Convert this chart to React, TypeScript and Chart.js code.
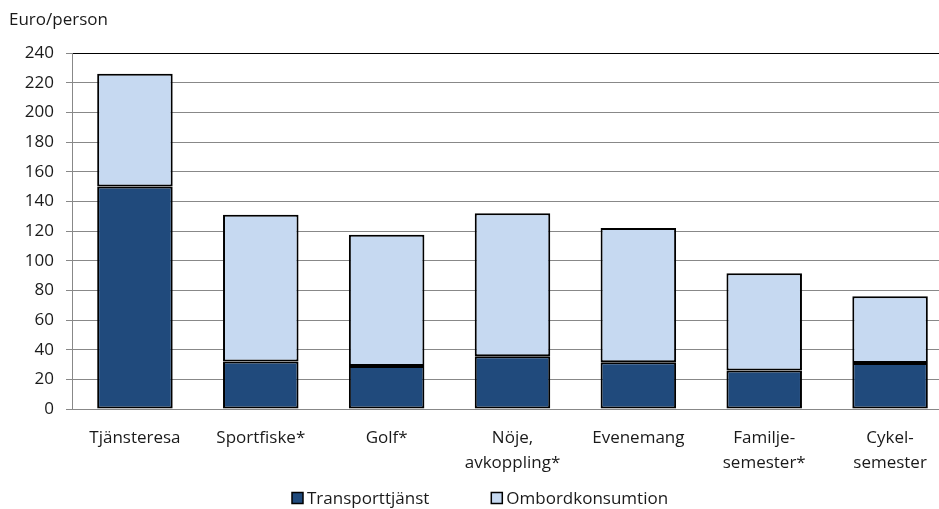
import React, { useEffect, useRef } from "react";
import { Chart, registerables } from "chart.js";

Chart.register(...registerables);

// ---- Data ----
const categories: (string | string[])[] = [
  "Tjänsteresa",
  "Sportfiske*",
  "Golf*",
  ["Nöje,", "avkoppling*"],
  "Evenemang",
  ["Familje-", "semester*"],
  ["Cykel-", "semester"],
];
const transporttjanst = [150, 32, 29, 35.5, 31.5, 26, 31];
const ombordkonsumtion = [76, 99, 88.5, 96.5, 90.5, 65.5, 45];
const seriesNames = ["Transporttjänst", "Ombordkonsumtion"];
const yAxisTitle = "Euro/person";
const yMin = 0;
const yMax = 240;
const yStep = 20;

// ---- Style ----
const FONT = "'Open Sans', sans-serif";
const TEXT = "#1a1a1a";
const GRID = "#888888";
const DARK = "#204a7c";
const LIGHT = "#c6d9f1";

const overlayPlugin = {
  id: "overlay",
  afterDraw(chart: any) {
    const ctx = chart.ctx as CanvasRenderingContext2D;
    ctx.save();
    ctx.font = `17px ${FONT}`;
    ctx.fillStyle = TEXT;
    ctx.textBaseline = "middle";
    ctx.textAlign = "left";
    ctx.fillText(yAxisTitle, 9, 20);

    const items = chart.data.datasets.map((ds: any) => ({
      label: ds.label as string,
      color: ds.backgroundColor as string,
    }));
    const box = 11;
    const gapText = 4;
    const gapItems = 62;
    const widths = items.map((it: any) => ctx.measureText(it.label).width);
    const total =
      widths.reduce((a: number, w: number) => a + box + gapText + w, 0) +
      gapItems * (items.length - 1);
    let x = Math.round(chart.width / 2 - total / 2);
    const y = 498;
    items.forEach((it: any, i: number) => {
      ctx.fillStyle = it.color;
      ctx.fillRect(x, y - box / 2, box, box);
      ctx.lineWidth = 1.5;
      ctx.strokeStyle = "#000";
      ctx.strokeRect(x, y - box / 2, box, box);
      ctx.fillStyle = TEXT;
      ctx.fillText(it.label, x + box + gapText, y + 1);
      x += box + gapText + widths[i] + gapItems;
    });
    ctx.restore();
  },
};

export default function App() {
  const ref = useRef<HTMLCanvasElement | null>(null);

  useEffect(() => {
    if (!ref.current) return;
    const chart = new Chart(ref.current, {
      type: "bar",
      data: {
        labels: categories,
        datasets: [
          {
            label: seriesNames[0],
            data: transporttjanst,
            backgroundColor: DARK,
            borderColor: "#000",
            borderWidth: 2,
            borderSkipped: false,
          },
          {
            label: seriesNames[1],
            data: ombordkonsumtion,
            backgroundColor: LIGHT,
            borderColor: "#000",
            borderWidth: 2,
            borderSkipped: false,
          },
        ],
      },
      options: {
        responsive: false,
        animation: false,
        devicePixelRatio: 1,
        layout: { padding: { top: 53, left: 0, right: 7, bottom: 16 } },
        datasets: {
          bar: { barPercentage: 0.6, categoryPercentage: 1 },
        },
        plugins: {
          legend: { display: false },
          title: { display: false },
          tooltip: { enabled: false },
        },
        scales: {
          x: {
            stacked: true,
            grid: { display: false, drawTicks: false },
            border: { display: true, color: GRID, width: 1 },
            ticks: {
              color: TEXT,
              font: { family: FONT, size: 17, lineHeight: 1.47 },
              padding: 17,
              maxRotation: 0,
              autoSkip: false,
            },
          },
          y: {
            stacked: true,
            min: yMin,
            max: yMax,
            afterFit: (scale: any) => {
              scale.width = 72;
            },
            grid: {
              color: (c: any) =>
                c.tick && c.tick.value === yMax ? "#000" : GRID,
              tickColor: GRID,
              tickLength: 6,
              lineWidth: 1,
            },
            border: { display: true, color: GRID, width: 1 },
            ticks: {
              stepSize: yStep,
              color: TEXT,
              font: { family: FONT, size: 17 },
              padding: 12,
            },
          },
        },
      },
      plugins: [overlayPlugin],
    });
    return () => chart.destroy();
  }, []);

  return (
    <div
      style={{
        position: "fixed",
        left: 0,
        top: 0,
        width: 939,
        height: 509,
        overflow: "hidden",
        background: "#fff",
      }}
    >
      <canvas ref={ref} width={960} height={509} style={{ display: "block" }} />
    </div>
  );
}
